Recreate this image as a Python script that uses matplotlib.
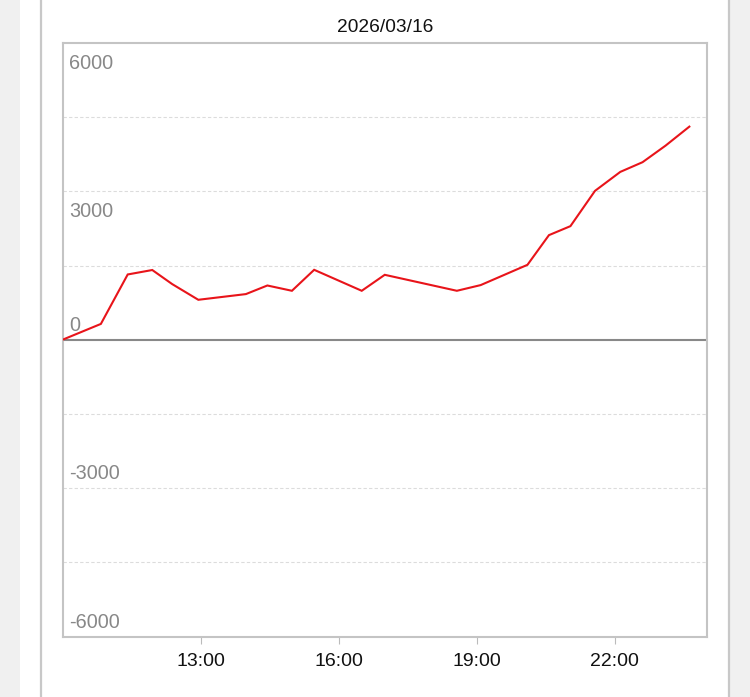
import matplotlib
matplotlib.use("Agg")
import matplotlib.pyplot as plt
from matplotlib.patches import Rectangle
from matplotlib.lines import Line2D

title = "2026/03/16"
times = ["10:00", "10:50", "11:25", "11:57", "12:23", "12:57", "13:59", "14:27",
         "14:59", "15:28", "16:30", "17:00", "18:34", "19:05", "20:06", "20:34",
         "21:02", "21:34", "22:07", "22:36", "23:06", "23:37"]
values = [0, 320, 1320, 1410, 1125, 808, 923, 1097,
          990, 1414, 990, 1313, 990, 1105, 1515, 2115,
          2297, 3010, 3394, 3590, 3925, 4309]
x_ticks = ["13:00", "16:00", "19:00", "22:00"]
y_labels = [6000, 3000, 0, -3000, -6000]
y_grid = [4500, 3000, 1500, -1500, -3000, -4500]
x_min, x_max = "10:00", "24:00"
y_min, y_max = -6000, 6000


def to_h(s):
    h, m = s.split(":")
    return int(h) + int(m) / 60.0


plt.rcParams['font.family'] = ['Liberation Sans', 'DejaVu Sans']

W, H = 750, 697
fig = plt.figure(figsize=(W / 100, H / 100), dpi=100)
fig.patch.set_facecolor("white")

# page background and panel borders
fig.patches.append(Rectangle((0, 0), 20 / W, 1, transform=fig.transFigure,
                             facecolor="#f0f0f0", edgecolor="none", zorder=0))
fig.patches.append(Rectangle((730 / W, 0), 20 / W, 1, transform=fig.transFigure,
                             facecolor="#f0f0f0", edgecolor="none", zorder=0))
for xp in (41, 729):
    fig.lines.append(Line2D([xp / W, xp / W], [0, 1], transform=fig.transFigure,
                            color="#c8c8c8", lw=1.6, zorder=1))

left, right, top, bottom = 62.5, 707, 43, 636.5
ax = fig.add_axes([left / W, (H - bottom) / H, (right - left) / W, (bottom - top) / H])
ax.set_facecolor("white")

xs = [to_h(t) for t in times]
ax.set_xlim(to_h(x_min), to_h(x_max))
ax.set_ylim(y_min, y_max)

for g in y_grid:
    ax.axhline(g, color="#dcdcdc", lw=0.8, ls=(0, (3, 2)), zorder=1)
ax.axhline(0, color="#888888", lw=1.5, zorder=2)

ax.plot(xs, values, color="#e8141a", lw=1.5, zorder=3, solid_joinstyle="miter")

for v in y_labels:
    if v > 0:
        ax.annotate(str(v), (0, v), xycoords=("axes fraction", "data"),
                    xytext=(5, -8), textcoords="offset points",
                    ha="left", va="top", color="#888888", fontsize=14.3)
    else:
        ax.annotate(str(v), (0, v), xycoords=("axes fraction", "data"),
                    xytext=(5, 3.5), textcoords="offset points",
                    ha="left", va="bottom", color="#888888", fontsize=14.3)

ax.set_yticks([])
ax.set_xticks([to_h(t) for t in x_ticks])
ax.set_xticklabels(x_ticks, fontsize=14, color="#111111")
ax.tick_params(axis="x", direction="out", length=5, width=0.8, color="#bbbbbb", pad=7)

for s in ax.spines.values():
    s.set_color("#c4c4c4")
    s.set_linewidth(1.5)

fig.text((left + right) / 2 / W, 1 - 27 / H, title, ha="center", va="center",
         fontsize=13.8, color="#111111")

fig.savefig("out.png", dpi=100)
